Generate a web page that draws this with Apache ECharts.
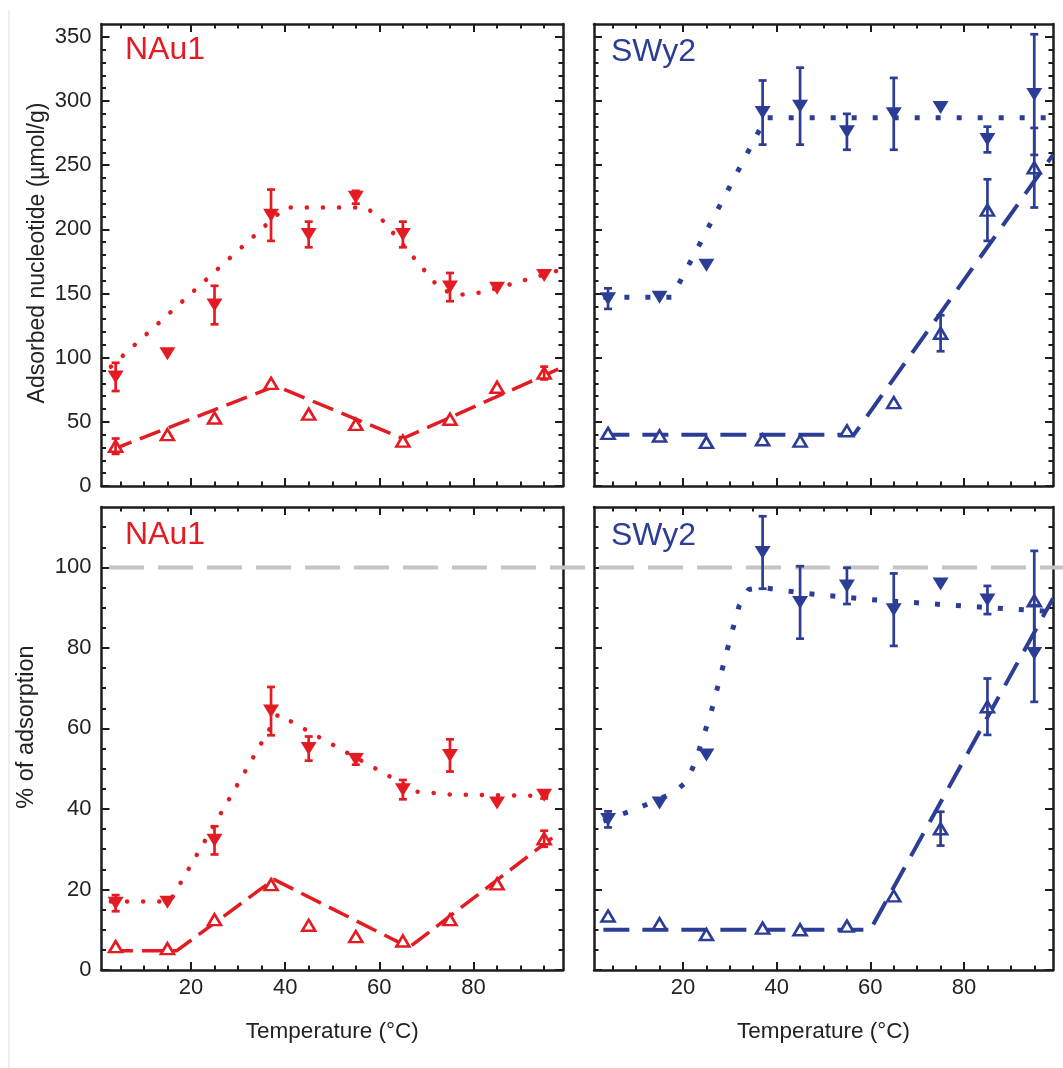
<!DOCTYPE html>
<html><head><meta charset="utf-8">
<script src="https://cdn.jsdelivr.net/npm/echarts@6/dist/echarts.min.js"></script>
<style>html,body{margin:0;padding:0;background:#fff}#c{width:1063px;height:1068px}</style>
</head><body><div id="c"></div>
<script>
// ---------- data ----------
const temps = [4, 15, 25, 37, 45, 55, 65, 75, 85, 95];

// Adsorbed nucleotide (µmol/g)
const nau1AdsFilled    = [85, 103, 141, 211, 196, 225, 196, 155, 154, 164];
const nau1AdsFilledErr = [11, 0, 15, 20, 10, 5, 10, 11, 0, 0];
const nau1AdsOpen      = [31, 40, 53, 80, 56, 48, 35, 52, 77, 88];
const nau1AdsOpenErr   = [6, 0, 0, 0, 0, 0, 0, 0, 0, 5];
const swy2AdsFilled    = [146, 147, 172, 291, 296, 276, 290, 295, 270, 305];
const swy2AdsFilledErr = [8, 0, 0, 25, 30, 14, 28, 0, 10, 47];
const swy2AdsOpen      = [41, 39, 34, 36, 35, 43, 65, 119, 215, 248];
const swy2AdsOpenErr   = [0, 0, 0, 0, 0, 0, 0, 14, 24, 31];

// % of adsorption
const nau1PctFilled    = [16.6, 16.8, 32.2, 64.3, 55, 52.3, 44.8, 53.3, 41.5, 43.4];
const nau1PctFilledErr = [2, 0, 3.5, 6, 3, 1.3, 2.4, 4, 0, 0.8];
const nau1PctOpen      = [5.8, 5.3, 12.5, 21.2, 11.1, 8.3, 7.2, 12.5, 21.4, 32.6];
const nau1PctOpenErr   = [0, 0, 0, 0, 0, 0, 0, 0, 0, 2];
const swy2PctFilled    = [37.4, 41.5, 53.4, 103.7, 91.3, 95.4, 89.5, 95.9, 91.9, 78.6];
const swy2PctFilledErr = [2, 0, 0, 9, 9, 4.5, 9, 0, 3.5, 12];
const swy2PctOpen      = [13.4, 11.5, 8.8, 10.4, 10, 10.9, 18.4, 35.1, 65.4, 91.7];
const swy2PctOpenErr   = [0, 0, 0, 0, 0, 0, 0, 4.2, 7, 12.4];

// fitted guide lines [temperature, value]
const nau1AdsFitFilled = [[3, 93], [40, 217], [57, 217], [60, 210], [73, 153], [77, 149], [82, 151], [98, 168]];
const nau1AdsFitOpen   = [[3, 28], [38, 78], [65, 37], [98, 91]];
const swy2AdsFitFilled = [[3, 147], [17.6, 147], [37.7, 287], [99, 287]];
const swy2AdsFitOpen   = [[3, 40], [56.5, 40], [99, 258]];
const nau1PctFitFilled = [[3, 17], [15.5, 17], [38.5, 63.5], [68, 44.3], [75, 43.6], [98, 43.2]];
const nau1PctFitOpen   = [[3, 4.8], [17, 4.8], [37.6, 22.5], [66.3, 5.6], [98, 34]];
const swy2PctFitFilled = [[3, 37], [10, 40], [18, 44], [21, 47], [23, 53], [26, 64], [30, 82], [32, 90.5], [34, 94.5], [37, 95], [45, 93.7], [60, 92], [80, 90.4], [99, 89]];
const swy2PctFitOpen   = [[3, 10], [60, 10], [99, 92.3]];
const referenceLevel = 100;

// ticks
const xRange = [1, 99];
const xMajor = [20, 40, 60, 80];
const xMinor = [5, 10, 15, 25, 30, 35, 45, 50, 55, 65, 70, 75, 85, 90, 95];
const yTopRange = [0, 360];
const yTopMajor = [0, 50, 100, 150, 200, 250, 300, 350];
const yTopMinor = [10, 20, 30, 40, 60, 70, 80, 90, 110, 120, 130, 140, 160, 170, 180, 190, 210, 220, 230, 240, 260, 270, 280, 290, 310, 320, 330, 340];
const yBotRange = [0, 115];
const yBotMajor = [0, 20, 40, 60, 80, 100];
const yBotMinor = [5, 10, 15, 25, 30, 35, 45, 50, 55, 65, 70, 75, 85, 90, 95, 105, 110];

const panelNames = ['NAu1', 'SWy2', 'NAu1', 'SWy2'];
const yTitles = ['Adsorbed nucleotide (\u00b5mol/g)', '% of adsorption'];
const xTitle = 'Temperature (\u00b0C)';

// ---------- style ----------
const RED = '#e31b23';
const BLUE = '#2c3d96';
const INK = '#1c1c1c';
const FONT = '"Liberation Sans", Arial, Helvetica, sans-serif';

const grids = [
  {left: 101.5, top: 24, width: 461.5, height: 462},
  {left: 594, top: 24, width: 459, height: 462},
  {left: 101.5, top: 507, width: 461.5, height: 463},
  {left: 594, top: 507, width: 459, height: 463}
];

function axisSet(gi, dim, range, major, minor, showLabels, name) {
  const pos = dim === 'x' ? ['bottom', 'top'] : ['left', 'right'];
  const base = {gridIndex: gi, type: 'value', min: range[0], max: range[1], splitLine: {show: false}};
  const line = {show: true, onZero: false, lineStyle: {color: INK, width: 2.5}};
  const tickStyle = {color: INK, width: 2};
  const label = showLabels ? {
    show: true, customValues: major,
    fontSize: 22, color: '#222', fontFamily: FONT, margin: dim === 'x' ? 7 : 10
  } : {show: false};
  const first = Object.assign({}, base, {
    position: pos[0], axisLine: line,
    axisTick: {show: true, inside: true, length: 8, customValues: major, lineStyle: tickStyle},
    axisLabel: label
  });
  if (name) {
    Object.assign(first, {name: name, nameLocation: 'middle', nameGap: 50,
      nameTextStyle: {fontSize: 22.5, color: '#222', fontFamily: FONT}});
  }
  return [
    first,
    Object.assign({}, base, {position: pos[1], axisLine: line,
      axisTick: {show: true, inside: true, length: 8, customValues: major, lineStyle: tickStyle},
      axisLabel: {show: false}}),
    Object.assign({}, base, {position: pos[0], axisLine: {show: false, onZero: false},
      axisTick: {show: true, inside: true, length: 4.5, customValues: minor, lineStyle: tickStyle},
      axisLabel: {show: false}}),
    Object.assign({}, base, {position: pos[1], axisLine: {show: false, onZero: false},
      axisTick: {show: true, inside: true, length: 4.5, customValues: minor, lineStyle: tickStyle},
      axisLabel: {show: false}})
  ];
}

const xAxes = [], yAxes = [];
for (let g = 0; g < 4; g++) {
  const bottom = g >= 2;
  xAxes.push(...axisSet(g, 'x', xRange, xMajor, xMinor, bottom, bottom ? xTitle : null));
  yAxes.push(...axisSet(g, 'y', bottom ? yBotRange : yTopRange,
    bottom ? yBotMajor : yTopMajor, bottom ? yBotMinor : yTopMinor, g % 2 === 0, null));
}

function fitLine(g, data, color, dotted) {
  return {
    type: 'line', xAxisIndex: g * 4, yAxisIndex: g * 4, data: data, showSymbol: false, z: 2,
    silent: true, animation: false,
    lineStyle: dotted
      ? (color === RED ? {color: color, width: 4.5, type: [0.1, 16], cap: 'round'}
                       : {color: color, width: 5, type: [5, 16], cap: 'butt'})
      : (color === RED ? {color: color, width: 3.5, type: [22, 9]}
                       : {color: color, width: 4, type: [26, 13]})
  };
}
function scatter(g, ys, color, filled) {
  return {
    type: 'scatter', xAxisIndex: g * 4, yAxisIndex: g * 4, z: 3,
    data: temps.map((t, i) => [t, ys[i]]),
    symbol: 'triangle',
    symbolRotate: filled ? 180 : 0,
    symbolSize: filled ? [16, 13] : [13, 11],
    itemStyle: filled ? {color: color, opacity: 1}
                      : {color: '#fff', borderColor: color, borderWidth: 2.6, opacity: 1}
  };
}
function errBars(g, ys, es, color) {
  return {
    type: 'custom', xAxisIndex: g * 4, yAxisIndex: g * 4, z: 4,
    data: temps.map((t, i) => [t, ys[i], es[i]]),
    encode: {x: 0, y: 1},
    renderItem: function (params, api) {
      const x = api.value(0), y = api.value(1), e = api.value(2);
      if (!e) return null;
      const a = api.coord([x, y + e]), b = api.coord([x, y - e]);
      const w = 4, st = {stroke: color, lineWidth: 2.7};
      return {type: 'group', children: [
        {type: 'line', shape: {x1: a[0], y1: a[1], x2: b[0], y2: b[1]}, style: st},
        {type: 'line', shape: {x1: a[0] - w, y1: a[1], x2: a[0] + w, y2: a[1]}, style: st},
        {type: 'line', shape: {x1: b[0] - w, y1: b[1], x2: b[0] + w, y2: b[1]}, style: st}
      ]};
    }
  };
}

const panels = [
  {g: 0, c: RED, f: nau1AdsFilled, fe: nau1AdsFilledErr, o: nau1AdsOpen, oe: nau1AdsOpenErr, lf: nau1AdsFitFilled, lo: nau1AdsFitOpen},
  {g: 1, c: BLUE, f: swy2AdsFilled, fe: swy2AdsFilledErr, o: swy2AdsOpen, oe: swy2AdsOpenErr, lf: swy2AdsFitFilled, lo: swy2AdsFitOpen},
  {g: 2, c: RED, f: nau1PctFilled, fe: nau1PctFilledErr, o: nau1PctOpen, oe: nau1PctOpenErr, lf: nau1PctFitFilled, lo: nau1PctFitOpen},
  {g: 3, c: BLUE, f: swy2PctFilled, fe: swy2PctFilledErr, o: swy2PctOpen, oe: swy2PctOpenErr, lf: swy2PctFitFilled, lo: swy2PctFitOpen}
];
const series = [];
panels.forEach(p => {
  series.push(fitLine(p.g, p.lf, p.c, true));
  series.push(fitLine(p.g, p.lo, p.c, false));
  series.push(scatter(p.g, p.o, p.c, false));
  series.push(scatter(p.g, p.f, p.c, true));
  series.push(errBars(p.g, p.o, p.oe, p.c));
  series.push(errBars(p.g, p.f, p.fe, p.c));
});

const textStyle = (s, c) => ({text: s, fill: c, font: '32px ' + FONT, verticalAlign: 'middle', align: 'left'});
const graphic = [
  {id: 'edge', type: 'line', z: 0, shape: {x1: 9, y1: 10, x2: 9, y2: 1068}, style: {stroke: '#e8e8e8', lineWidth: 1.5}},
  {type: 'text', x: 125, y: 50.5, z: 10, style: textStyle(panelNames[0], RED)},
  {type: 'text', x: 611, y: 52, z: 10, style: textStyle(panelNames[1], BLUE)},
  {type: 'text', x: 125, y: 535, z: 10, style: textStyle(panelNames[2], RED)},
  {type: 'text', x: 611, y: 536, z: 10, style: textStyle(panelNames[3], BLUE)},
  {type: 'text', x: 38, y: 253, rotation: Math.PI / 2, z: 10,
    style: {text: yTitles[0], fill: '#222', font: '23px ' + FONT, align: 'center', verticalAlign: 'middle'}},
  {type: 'text', x: 27, y: 727, rotation: Math.PI / 2, z: 10,
    style: {text: yTitles[1], fill: '#222', font: '23.5px ' + FONT, align: 'center', verticalAlign: 'middle'}}
];

const chart = echarts.init(document.getElementById('c'), null, {renderer: 'canvas'});
chart.setOption({
  animation: false,
  backgroundColor: '#fff',
  grid: grids,
  xAxis: xAxes,
  yAxis: yAxes,
  series: series,
  graphic: graphic
});
const yRef = chart.convertToPixel({xAxisIndex: 8, yAxisIndex: 8}, [50, referenceLevel])[1];
graphic.push({id: 'ref', type: 'line', z: 1, shape: {x1: 109, y1: yRef, x2: 1063, y2: yRef},
  style: {stroke: '#c4c4c4', lineWidth: 4, lineDash: [35, 14]}});
chart.setOption({graphic: graphic});
</script>
</body></html>
